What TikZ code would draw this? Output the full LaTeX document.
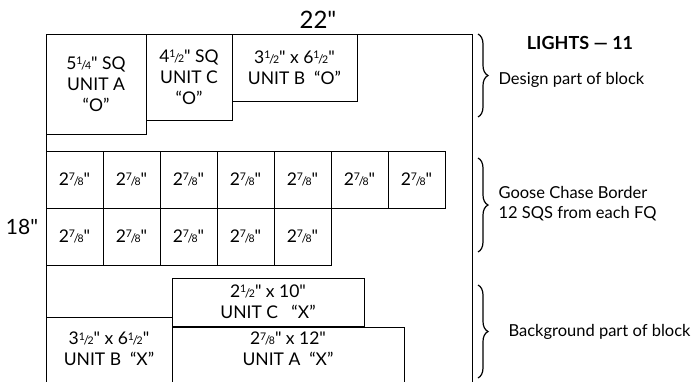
\documentclass[tikz,border=0pt]{standalone}
\usepackage{fontspec}
\setmainfont{Lato}[Ligatures=TeXOff]
\usepackage{tikz}
\usetikzlibrary{positioning, decorations.pathreplacing}

\newcommand{\fr}[2]{\raisebox{0.55ex}{\fontsize{10.5}{10}\selectfont #1}\kern-0.08em{\fontsize{12}{12}\selectfont /}\kern-0.08em{\fontsize{10.5}{10}\selectfont #2}}

\tikzset{
  piece/.style={draw, line width=0.8pt, inner sep=2pt, outer sep=0pt, align=center},
  sq/.style={piece, minimum width=57pt, minimum height=57pt},
  partbrace/.style={decorate, decoration={brace, amplitude=10pt}, line width=1.2pt},
  note/.style={font=\fontsize{16.5}{20}\selectfont, anchor=west, align=left}
}

\begin{document}
\begin{tikzpicture}[x=1pt, y=-1pt, font=\fontsize{17.5}{21}\selectfont]
    \useasboundingbox (0,0) rectangle (691,381);
    \clip (0,0) rectangle (691,381);
    % whole block
    \node[piece, anchor=north west, minimum width=426pt, minimum height=380pt] (block) at (46,34) {};
    \node[font=\fontsize{24}{24}\selectfont] (width) at (318,20) {22"};
    \node[font=\fontsize{21}{21}\selectfont] (height) at (22,227) {18"};
    % design part
    \node[piece, anchor=north west, minimum width=100pt, minimum height=100pt] (unitAO) at (46,34) {5\fr14" SQ\\UNIT A\\“O”};
    \node[piece, anchor=north west, minimum width=86pt, minimum height=86pt] (unitCO) at (unitAO.north east) {4\fr12" SQ\\UNIT C\\“O”};
    \node[piece, anchor=north west, minimum width=125pt, minimum height=67pt] (unitBO) at (unitCO.north east) {3\fr12" x 6\fr12"\\UNIT B \ “O”};
    % goose chase border
    \node[sq, anchor=north west] (sqA1) at (46,151) {2\fr78"};
    \node[sq, right=0pt of sqA1] (sqA2) {2\fr78"};
    \node[sq, right=0pt of sqA2] (sqA3) {2\fr78"};
    \node[sq, right=0pt of sqA3] (sqA4) {2\fr78"};
    \node[sq, right=0pt of sqA4] (sqA5) {2\fr78"};
    \node[sq, right=0pt of sqA5] (sqA6) {2\fr78"};
    \node[sq, right=0pt of sqA6] (sqA7) {2\fr78"};
    \node[sq, below=0pt of sqA1] (sqB1) {2\fr78"};
    \node[sq, right=0pt of sqB1] (sqB2) {2\fr78"};
    \node[sq, right=0pt of sqB2] (sqB3) {2\fr78"};
    \node[sq, right=0pt of sqB3] (sqB4) {2\fr78"};
    \node[sq, right=0pt of sqB4] (sqB5) {2\fr78"};
    % background part
    \node[piece, anchor=north west, minimum width=192pt, minimum height=48pt] (unitCX) at (172,278) {2\fr12" x 10"\\UNIT C \ \ “X”};
    \node[piece, anchor=north west, minimum width=126pt, minimum height=80pt] (unitBX) at (46,317) {};
    \node[piece, anchor=north west, minimum width=232pt, minimum height=70pt] (unitAX) at (172,327) {};
    \node[align=center, inner sep=2pt, below=13pt of unitBX.north] (unitBXtxt) {3\fr12" x 6\fr12"\\UNIT B \ “X”};
    \node[align=center, inner sep=2pt, below=3pt of unitAX.north] (unitAXtxt) {2\fr78" x 12"\\UNIT A \ “X”};
    % notes
    \node[font=\fontsize{18}{18}\selectfont\bfseries] (lights) at (580,43) {LIGHTS — 11};
    \draw[partbrace] (478,34) -- (478,117);
    \draw[partbrace] (478,158) -- (478,252);
    \draw[partbrace] (478,285) -- (478,378);
    \node[note] (design) at (495,80) {Design part of block};
    \node[note] (goose) at (495,204) {Goose Chase Border\\12 SQS from each FQ};
    \node[note] (background) at (505,332) {Background part of block};
\end{tikzpicture}
\end{document}
